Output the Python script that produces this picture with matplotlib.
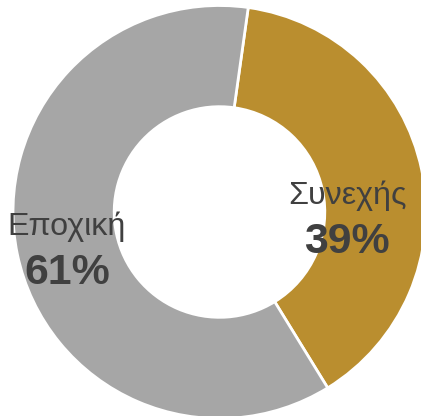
import matplotlib
matplotlib.use("Agg")
import matplotlib.pyplot as plt

categories = ["Συνεχής", "Εποχική"]
values = [39, 61]
colors = ["#BA8E2F", "#A6A6A6"]

plt.rcParams['font.family'] = ['Liberation Sans', 'DejaVu Sans']

W, H = 421, 416
fig = plt.figure(figsize=(W / 100, H / 100), dpi=100)
ax = fig.add_axes([0, 0, 1, 1])

cx, cy, R = 219.5, H - 212, 206.5
ax.pie(values, colors=colors, startangle=82, counterclock=False,
       radius=R, center=(cx, cy),
       wedgeprops=dict(width=R * 0.49, edgecolor="white", linewidth=2))
ax.set_xlim(0, W)
ax.set_ylim(0, H)
ax.set_aspect('equal', adjustable='box')
ax.axis('off')

total = sum(values)
label_pos = [(347, H - 204, H - 253), (67, H - 235, H - 284)]
for cat, v, (x, y1, y2) in zip(categories, values, label_pos):
    ax.text(x, y1, cat, ha='center', va='baseline', fontsize=23.2, color="#404040")
    ax.text(x, y2, f"{round(100 * v / total)}%", ha='center', va='baseline',
            fontsize=30.8, fontweight='bold', color="#404040")

fig.savefig("out.png", dpi=100)
